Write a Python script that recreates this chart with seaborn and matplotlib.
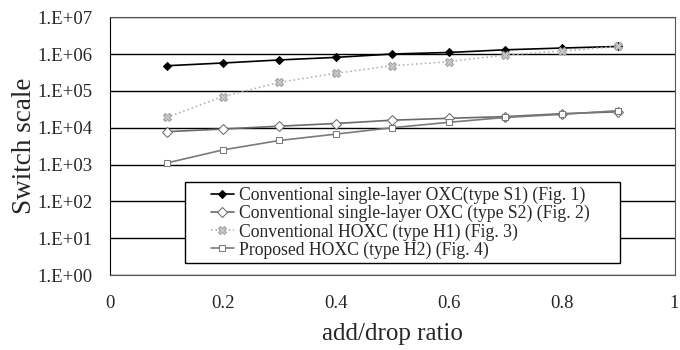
import numpy as np
import pandas as pd
import seaborn as sns
import matplotlib
matplotlib.use("Agg")
import matplotlib.pyplot as plt
from matplotlib.ticker import FuncFormatter, FixedLocator
from matplotlib.lines import Line2D
from matplotlib.legend_handler import HandlerLine2D

# data
ratio = [0.1, 0.2, 0.3, 0.4, 0.5, 0.6, 0.7, 0.8, 0.9]
s1 = [4.8e5, 5.7e5, 6.9e5, 8.1e5, 1.0e6, 1.1e6, 1.3e6, 1.45e6, 1.6e6]
s2 = [7.8e3, 9.2e3, 1.1e4, 1.3e4, 1.6e4, 1.8e4, 2.0e4, 2.4e4, 2.7e4]
h1 = [1.9e4, 7.0e4, 1.7e5, 3.0e5, 4.8e5, 6.2e5, 9.4e5, 1.2e6, 1.6e6]
h2 = [1.1e3, 2.5e3, 4.5e3, 6.7e3, 1.0e4, 1.4e4, 1.9e4, 2.3e4, 2.9e4]

names = ["Conventional single-layer OXC(type S1) (Fig. 1)",
         "Conventional single-layer OXC (type S2) (Fig. 2)",
         "Conventional HOXC (type H1) (Fig. 3)",
         "Proposed HOXC (type H2) (Fig. 4)"]
x_ticks = [0, 0.2, 0.4, 0.6, 0.8, 1]
y_ticks = [1e0, 1e1, 1e2, 1e3, 1e4, 1e5, 1e6, 1e7]

sns.set_style("white")
plt.rcParams["font.family"] = ["Liberation Serif", "DejaVu Serif"]

fig = plt.figure(figsize=(6.8, 3.5), dpi=100)
ax = fig.add_axes([0.162, 0.214, 0.83, 0.737])

styles = [
    dict(color="black", marker="D", markersize=4.5, markerfacecolor="black", markeredgecolor="black", linestyle="-"),
    dict(color="#6a6a6a", marker="D", markersize=5, markerfacecolor="white", markeredgecolor="#6a6a6a", linestyle="-"),
    dict(color="#b4b4b4", marker="X", markersize=5.5, markerfacecolor="#c8c8c8", markeredgecolor="#a0a0a0", linestyle=":"),
    dict(color="#7a7a7a", marker="s", markersize=5, markerfacecolor="white", markeredgecolor="#7a7a7a", linestyle="-"),
]
for vals, name, st in zip([s1, s2, h1, h2], names, styles):
    df = pd.DataFrame({"ratio": ratio, "scale": vals})
    sns.lineplot(data=df, x="ratio", y="scale", ax=ax, label=name, linewidth=1.2, **st)

ax.set_yscale("log")
ax.set_ylim(1, 1e7)
ax.set_xlim(0, 1)
ax.yaxis.set_major_locator(FixedLocator(y_ticks))
ax.yaxis.set_minor_locator(FixedLocator([]))
ax.yaxis.set_major_formatter(FuncFormatter(lambda v, p: "1.E+%02d" % int(round(np.log10(v)))))
ax.set_xticks(x_ticks)
ax.set_xticklabels(["0", "0.2", "0.4", "0.6", "0.8", "1"])
ax.grid(axis="y", color="black", linewidth=1.0)
ax.grid(axis="x", visible=False)
for s in ["top", "right", "bottom"]:
    ax.spines[s].set_color("#555555")
ax.spines["left"].set_color("black")
ax.tick_params(axis="x", direction="in", length=5, pad=14, labelsize=13.5)
ax.tick_params(axis="y", length=0, pad=13, labelsize=13.5)
ax.set_xlabel("add/drop ratio", fontsize=18, labelpad=8)
ax.set_ylabel("Switch scale", fontsize=19.5, labelpad=0)

leg = ax.legend(loc="lower left", bbox_to_anchor=(0.133, 0.0465, 0.771, 0.33),
                mode="expand", borderaxespad=0, fontsize=12.7,
                frameon=True, fancybox=False, edgecolor="black", framealpha=1,
                handlelength=2.5, labelspacing=0.05, borderpad=0.25, handletextpad=0.3,
                handler_map={Line2D: HandlerLine2D(xpad=1.2)})
leg.get_frame().set_linewidth(1.0)

fig.savefig("out.png", dpi=100)
